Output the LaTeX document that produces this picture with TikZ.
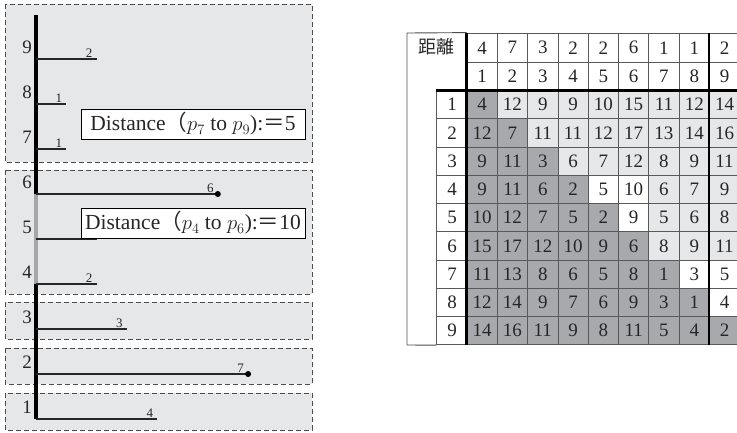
\documentclass[tikz,border=0pt]{standalone}
\usepackage{fontspec}
\setmainfont{Liberation Serif}
\newfontfamily\cjk{Noto Sans CJK JP}
\definecolor{fondo}{HTML}{E6E7E8}
\definecolor{oscuro}{HTML}{A7A9AC}
\definecolor{claro}{HTML}{E6E7E8}
\begin{document}
\begin{tikzpicture}[x=1pt, y=-1pt,
  every node/.append style={text=black!85},
  grupo/.style={draw=black!70, dash pattern=on 5pt off 3pt, line width=0.9pt, fill=fondo},
  eje/.style={line width=3.4pt},
  tramo/.style={line width=1.2pt, black!85},
  nivel/.style={font=\fontsize{19}{20}\selectfont},
  valor/.style={font=\fontsize{13}{14}\selectfont, inner sep=1pt, anchor=south east, xshift=-3pt},
  caja/.style={draw, fill=white, line width=0.9pt, minimum width=224pt, minimum height=30pt, inner sep=0pt, font=\fontsize{21.5}{23}\selectfont},
  celda/.style={draw=black!65, line width=0.8pt, minimum width=30.3pt, minimum height=28.25pt, inner sep=0pt, font=\fontsize{19}{20}\selectfont},
  grueso/.style={line width=2.8pt}]
  \useasboundingbox (0,0) rectangle (737,432);
  \clip (0,0) rectangle (737,432);
  % grupos
  \draw[grupo] (5,4) rectangle (312,162);
  \draw[grupo] (5,170) rectangle (312,294);
  \draw[grupo] (5,302) rectangle (312,339);
  \draw[grupo] (5,348) rectangle (312,384);
  \draw[grupo] (5,393) rectangle (312,430);
  % puntos
  \foreach \i/\d in {1/4,2/7,3/3,4/2,5/2,6/6,7/1,8/1,9/2} {
    \coordinate (p\i) at (36,{419-45*(\i-1)});
    \coordinate (q\i) at ({36+30.3*\d},{419-45*(\i-1)});
    \node[nivel] (n\i) at (27,{407-45*(\i-1)}) {\i};
  }
  % eje
  \coordinate (tope) at (36,15);
  \draw[eje, black!35] (p6) -- (p4);
  \draw[eje] (tope) -- (p6);
  \draw[eje] (p4) -- (p1);
  \foreach \i in {1,...,9} \draw[tramo] (p\i) -- (q\i);
  \foreach \i/\d in {1/4,2/7,3/3,4/2,6/6,7/1,8/1,9/2} \node[valor] (v\i) at (q\i) {\d};
  \fill (q6) circle (3pt);
  \fill (q2) circle (3pt);
  % distancias
  \node[caja] (d79) at (193,124) {Distance{\cjk （}$p_7$ to $p_9$):{\cjk ＝}5};
  \node[caja] (d46) at (193,223) {Distance{\cjk （}$p_4$ to $p_6$):{\cjk ＝}10};
  % tabla
  \node[font=\cjk\fontsize{18}{19}\selectfont] (titulo) at (436,47) {距離};
  \foreach \v [count=\j] in {4,7,3,2,2,6,1,1,2} {
    \node[celda, minimum height=29.5pt] (a\j) at ({482.15+30.3*(\j-1)},47.75) {\v};
    \node[celda, minimum height=28pt] (b\j) at ({482.15+30.3*(\j-1)},76.5) {\j};
  }
  \foreach \i/\g/\fila in {1/1/{4,12,9,9,10,15,11,12,14},
                          2/2/{12,7,11,11,12,17,13,14,16},
                          3/3/{9,11,3,6,7,12,8,9,11},
                          4/6/{9,11,6,2,5,10,6,7,9},
                          5/6/{10,12,7,5,2,9,5,6,8},
                          6/6/{15,17,12,10,9,6,8,9,11},
                          7/9/{11,13,8,6,5,8,1,3,5},
                          8/9/{12,14,9,7,6,9,3,1,4},
                          9/9/{14,16,11,9,8,11,5,4,2}} {
    \node[celda, fill=white] (r\i) at (452,{104.625+28.25*(\i-1)}) {\i};
    \foreach \v [count=\j] in \fila {
      \ifnum\j>\g \def\tono{claro}\else\ifnum\j>\i \def\tono{white}\else\def\tono{oscuro}\fi\fi
      \node[celda, fill=\tono] (c\i-\j) at ({482.15+30.3*(\j-1)},{104.625+28.25*(\i-1)}) {\v};
    }
  }
  \draw[line width=0.9pt, black!70] (a1.north west) -- (407,33) -- (407,345) -- (r9.south west);
  \draw[grueso] (a1.north west) -- (c9-1.south west);
  \draw[grueso] (a9.north west) -- (c9-9.south west);
  \draw[grueso] (r1.north west) -- (c1-9.north east);
\end{tikzpicture}
\end{document}
